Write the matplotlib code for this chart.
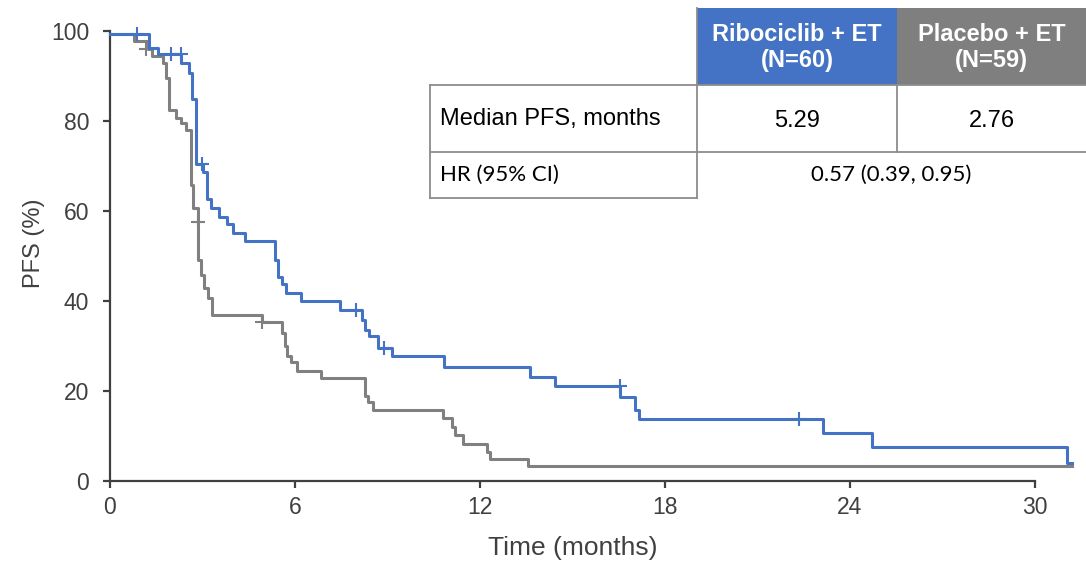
import matplotlib
matplotlib.use('Agg')
import matplotlib.pyplot as plt
from matplotlib.patches import Rectangle

plt.rcParams['font.family'] = ['Liberation Sans', 'DejaVu Sans']

# Kaplan-Meier steps (months, PFS %)
ribo_t = [0, 1.27, 1.57, 2.30, 2.57, 2.66, 2.78, 3.03, 3.14, 3.28, 3.55, 3.78, 4.00, 4.38,
          5.35, 5.46, 5.57, 5.71, 6.18, 7.46, 8.16, 8.27, 8.41, 8.70, 9.14, 10.83, 13.62,
          14.43, 16.54, 17.03, 17.17, 23.12, 24.71, 31.03, 31.19]
ribo_s = [99.3, 96.3, 94.8, 92.8, 90.6, 85.0, 70.4, 68.7, 62.6, 60.6, 58.7, 57.1, 55.2, 53.4,
          49.1, 45.4, 43.8, 41.7, 39.9, 38.0, 35.8, 33.6, 32.2, 29.5, 27.8, 25.4, 23.1,
          21.1, 18.7, 15.8, 13.7, 10.6, 7.5, 4.1, 4.1]
ribo_cens_t = [0.87, 1.97, 2.29, 2.97, 7.98, 8.89, 16.54, 22.35]
ribo_cens_s = [99.3, 94.8, 94.8, 70.4, 38.0, 29.5, 21.1, 13.7]

plac_t = [0, 0.79, 1.24, 1.35, 1.72, 1.82, 1.91, 2.14, 2.29, 2.47, 2.62, 2.69, 2.86, 2.95,
          3.06, 3.19, 3.32, 4.94, 5.57, 5.66, 5.75, 5.86, 6.05, 6.84, 8.27, 8.38, 8.54,
          10.79, 11.08, 11.19, 11.46, 12.24, 12.33, 13.57, 31.19]
plac_s = [99.3, 97.7, 96.0, 94.4, 92.8, 89.5, 82.4, 80.6, 79.5, 77.9, 65.8, 60.6, 49.1, 45.8,
          43.0, 40.6, 37.0, 35.3, 32.8, 29.9, 27.8, 26.5, 24.4, 23.0, 18.9, 17.6, 15.8,
          13.9, 11.9, 10.2, 8.2, 6.5, 5.0, 3.3, 3.3]
plac_cens_t = [1.17, 2.86, 4.93]
plac_cens_s = [96.0, 57.6, 35.3]

x_ticks = [0, 6, 12, 18, 24, 30]
y_ticks = [0, 20, 40, 60, 80, 100]

col_headers = ['Ribociclib + ET\n(N=60)', 'Placebo + ET\n(N=59)']
row_labels = ['Median PFS, months', 'HR (95% CI)']
median_pfs = ['5.29', '2.76']
hr_text = '0.57 (0.39, 0.95)'

blue = '#4472C4'
grey = '#808080'
dark = '#404040'

fig = plt.figure(figsize=(10.86, 5.61), dpi=100)
ax = fig.add_axes([110 / 1086, 80 / 561, 925 / 1086, 450 / 561])

ax.step(plac_t, plac_s, where='post', color=grey, lw=2.2, clip_on=False, zorder=3)
ax.step(ribo_t, ribo_s, where='post', color=blue, lw=2.2, clip_on=False, zorder=4)
ax.plot(plac_cens_t, plac_cens_s, '+', color=grey, ms=10, mew=1.5, clip_on=False, zorder=3)
ax.plot(ribo_cens_t, ribo_cens_s, '+', color=blue, ms=10, mew=1.5, clip_on=False, zorder=4)

ax.set_xlim(0, 30)
ax.set_ylim(0, 100)
ax.set_xticks(x_ticks)
ax.set_yticks(y_ticks)
for side in ['top', 'right']:
    ax.spines[side].set_visible(False)
for side in ['left', 'bottom']:
    ax.spines[side].set_color(dark)
    ax.spines[side].set_linewidth(1.6)
ax.tick_params(axis='both', colors=dark, width=1.6, length=5, labelsize=16.5)
ax.tick_params(axis='x', pad=6)
ax.tick_params(axis='y', pad=10)
ax.set_xlabel('Time (months)', fontsize=19, color=dark)
ax.set_ylabel('PFS (%)', fontsize=17, color=dark)
ax.xaxis.set_label_coords(0.5, -0.122)
ax.yaxis.set_label_coords(-0.070, 0.529)

# table drawn in pixel coordinates on an overlay
tab = fig.add_axes([0, 0, 1, 1], zorder=5)
tab.set_xlim(0, 1086)
tab.set_ylim(561, 0)
tab.axis('off')
tab.patch.set_alpha(0)

cx = [430, 697, 897, 1086]
ry = [8, 85, 152, 198]
bc = '#8c8c8c'

tab.add_patch(Rectangle((cx[1], ry[0]), cx[2] - cx[1], ry[1] - ry[0], color=blue, lw=0))
tab.add_patch(Rectangle((cx[2], ry[0]), cx[3] - cx[2], ry[1] - ry[0], color='#7F7F7F', lw=0))
tab.add_patch(Rectangle((cx[0], ry[1]), cx[3] - cx[0], ry[3] - ry[1], color='white', lw=0))

lw = 1.3
tab.plot([cx[0], cx[3]], [ry[1], ry[1]], color=bc, lw=lw)
tab.plot([cx[0], cx[3]], [ry[2], ry[2]], color=bc, lw=lw)
tab.plot([cx[0], cx[1]], [ry[3], ry[3]], color=bc, lw=lw)
tab.plot([cx[0], cx[0]], [ry[1], ry[3]], color=bc, lw=lw)
tab.plot([cx[1], cx[1]], [ry[0], ry[3]], color=bc, lw=lw)
tab.plot([cx[2], cx[2]], [ry[1], ry[2]], color=bc, lw=lw)

for i, h in enumerate(col_headers):
    tab.text((cx[i + 1] + cx[i + 2]) / 2, (ry[0] + ry[1]) / 2 + 1, h, ha='center', va='center',
             color='white', fontsize=17, fontweight='bold', linespacing=1.15)

tab.text(cx[0] + 10, (ry[1] + ry[2]) / 2, row_labels[0], ha='left', va='center',
         fontsize=17, color='black')
for i, v in enumerate(median_pfs):
    tab.text((cx[i + 1] + cx[i + 2]) / 2, (ry[1] + ry[2]) / 2 + 2, v, ha='center', va='center',
             fontsize=17, color='black')

tab.text(cx[0] + 10, (ry[2] + ry[3]) / 2, row_labels[1], ha='left', va='center',
         fontsize=16, family='Lato', color='black')
tab.text((cx[1] + cx[3]) / 2, (ry[2] + ry[3]) / 2, hr_text, ha='center', va='center',
         fontsize=16, family='Lato', color='black')

fig.savefig('out.png', dpi=100)
